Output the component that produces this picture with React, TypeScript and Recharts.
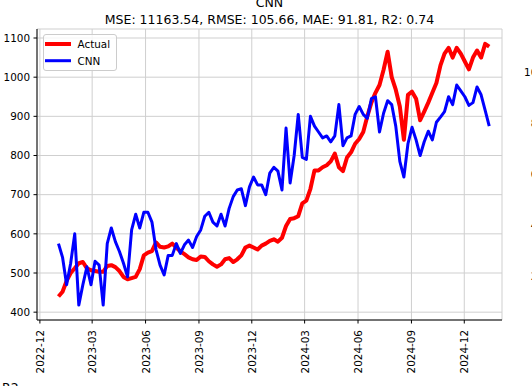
import React from 'react';
import { LineChart, Line, XAxis, YAxis, CartesianGrid, Legend } from 'recharts';

// ---- data (weekly samples) ----
const START_DATE = '2023-01-02';
const STEP_DAYS = 7;

const actualValues = [
  440, 452, 480, 500, 512, 525, 528, 512, 507, 505,
  503, 503, 518, 520, 515, 505, 490, 484, 487, 490,
  510, 545, 552, 556, 578, 567, 565, 568, 575, 565,
  555, 548, 540, 535, 533, 542, 541, 530, 522, 516,
  522, 535, 538, 528, 535, 545, 565, 570, 565, 560,
  570, 575, 582, 586, 580, 590, 620, 638, 640, 645,
  678, 685, 715, 762, 762, 770, 775, 785, 805, 770,
  760, 795, 808, 830, 842, 860, 900, 935, 960, 980,
  1019, 1065, 1000, 968, 925, 840, 955, 963, 945, 890,
  912, 935, 960, 985, 1030, 1060, 1075, 1050, 1075, 1060,
  1040, 1020, 1050, 1068, 1050, 1085, 1078,
];

const cnnValues = [
  575, 540, 470, 525, 600, 418, 470, 516, 470, 530,
  520, 418, 575, 615, 580, 555, 525, 490, 610, 650,
  615, 655, 655, 630, 560, 520, 495, 545, 545, 575,
  550, 572, 584, 565, 593, 610, 645, 655, 630, 620,
  650, 620, 665, 695, 712, 715, 672, 720, 745, 725,
  725, 700, 755, 770, 760, 712, 870, 730, 800, 905,
  795, 790, 900, 875, 860, 845, 850, 835, 850, 930,
  825, 845, 850, 905, 925, 905, 895, 945, 950, 860,
  908, 940, 930, 875, 785, 745, 830, 872, 840, 800,
  835, 862, 840, 885, 898, 912, 950, 930, 980, 965,
  950, 928, 935, 975, 955, 915, 875,
];

const xTickLabels = [
  '2022-12', '2023-03', '2023-06', '2023-09', '2023-12',
  '2024-03', '2024-06', '2024-09', '2024-12',
];
const yTickValues = [400, 500, 600, 700, 800, 900, 1000, 1100];
const neighbourTickLabels = ['1000', '800', '600', '400', '200'];

const TITLE = 'CNN';
const SUBTITLE = 'MSE: 11163.54, RMSE: 105.66, MAE: 91.81, R2: 0.74';

// ---- derived ----
const DAY_MS = 86400000;
const toTs = (s: string) => Date.parse(s + 'T00:00:00Z');
const startTs = toTs(START_DATE);
const data = actualValues.map((v, i) => ({
  t: startTs + i * STEP_DAYS * DAY_MS,
  actual: v,
  cnn: cnnValues[i],
}));
const xTicks = xTickLabels.map((l) => toTs(l + '-01'));
const X_DOMAIN: [number, number] = [toTs('2022-11-26'), toTs('2025-02-04')];
const Y_DOMAIN: [number, number] = [380, 1123];

const FONT = '"DejaVu Sans", sans-serif';
const TICK_FS = 10.4;
const TITLE_FS = 12.5;

const SERIES_STYLE: Record<string, { color: string; width: number }> = {
  Actual: { color: '#ff0000', width: 4 },
  CNN: { color: '#0000ff', width: 3 },
};

const XTick = (props: any) => {
  const { x, y, payload } = props;
  const idx = xTicks.indexOf(payload.value);
  const label = idx >= 0 ? xTickLabels[idx] : '';
  return (
    <text
      x={x}
      y={y}
      transform={`rotate(-90, ${x}, ${y})`}
      textAnchor="end"
      dominantBaseline="central"
      fontSize={TICK_FS}
      fontFamily={FONT}
      fill="#000"
    >
      {label}
    </text>
  );
};

const LegendBox = (props: any) => {
  const payload = props.payload || [];
  return (
    <svg width={75} height={38} style={{ display: 'block' }}>
      <rect x={0.5} y={0.5} width={73} height={36} rx={2.5} fill="#fff" fillOpacity={0.8} stroke="#cccccc" />
      {payload.map((p: any, i: number) => {
        const st = SERIES_STYLE[p.value] || { color: p.color, width: 3 };
        const cy = 10 + i * 16.7;
        return (
          <g key={p.value}>
            <line x1={2} x2={28} y1={cy} y2={cy} stroke={st.color} strokeWidth={st.width} />
            <text x={34.5} y={cy} dominantBaseline="central" fontSize={TICK_FS} fontFamily={FONT} fill="#000">
              {p.value}
            </text>
          </g>
        );
      })}
    </svg>
  );
};

export default function App() {
  return (
    <div style={{ position: 'absolute', left: 0, top: 0, width: 532, height: 386, overflow: 'hidden', background: '#fff' }}>
      <LineChart width={532} height={386} data={data} margin={{ top: 29, right: 30, bottom: 0, left: 0 }}>
        <CartesianGrid stroke="#cfcfcf" strokeWidth={1} />
        <XAxis
          dataKey="t"
          type="number"
          domain={X_DOMAIN}
          ticks={xTicks}
          interval={0}
          allowDataOverflow
          height={66}
          tickSize={3.5}
          tickMargin={6.5}
          tick={<XTick />}
          axisLine={{ stroke: '#000' }}
          tickLine={{ stroke: '#000' }}
        />
        <XAxis
          xAxisId="top"
          orientation="top"
          dataKey="t"
          type="number"
          domain={X_DOMAIN}
          allowDataOverflow
          height={0}
          tick={false}
          tickLine={false}
          axisLine={{ stroke: '#000' }}
        />
        <YAxis
          type="number"
          domain={Y_DOMAIN}
          ticks={yTickValues}
          interval={0}
          allowDataOverflow
          width={37}
          tickSize={3.5}
          tickMargin={3.5}
          tick={{ fontSize: TICK_FS, fontFamily: FONT, fill: '#000' }}
          axisLine={{ stroke: '#000' }}
          tickLine={{ stroke: '#000' }}
        />
        <YAxis
          yAxisId="right"
          orientation="right"
          type="number"
          domain={Y_DOMAIN}
          allowDataOverflow
          width={0}
          tick={false}
          tickLine={false}
          axisLine={{ stroke: '#000' }}
        />
        <Legend
          layout="horizontal"
          verticalAlign="middle"
          align="center"
          width={75}
          height={38}
          wrapperStyle={{ left: 43, top: 34 }}
          content={<LegendBox />}
        />
        <Line
          type="linear"
          dataKey="actual"
          name="Actual"
          stroke={SERIES_STYLE.Actual.color}
          strokeWidth={SERIES_STYLE.Actual.width}
          strokeLinejoin="round"
          dot={false}
          activeDot={false}
          isAnimationActive={false}
        />
        <Line
          type="linear"
          dataKey="cnn"
          name="CNN"
          stroke={SERIES_STYLE.CNN.color}
          strokeWidth={SERIES_STYLE.CNN.width}
          strokeLinejoin="round"
          dot={false}
          activeDot={false}
          isAnimationActive={false}
        />
      </LineChart>
      <svg
        width={532}
        height={386}
        style={{ position: 'absolute', left: 0, top: 0, pointerEvents: 'none' }}
      >
        <text x={269.5} y={7} textAnchor="middle" fontSize={TITLE_FS} fontFamily={FONT} fill="#000">
          {TITLE}
        </text>
        <text x={269.5} y={23.5} textAnchor="middle" fontSize={TITLE_FS} fontFamily={FONT} fill="#000">
          {SUBTITLE}
        </text>
        {neighbourTickLabels.map((l, i) => (
          <text
            key={l}
            x={550.5}
            y={72 + i * 51}
            textAnchor="end"
            dominantBaseline="central"
            fontSize={TICK_FS}
            fontFamily={FONT}
            fill="#000"
          >
            {l}
          </text>
        ))}
        <text x={2} y={392} fontSize={TITLE_FS} fontFamily={FONT} fill="#000">
          R2
        </text>
      </svg>
    </div>
  );
}
